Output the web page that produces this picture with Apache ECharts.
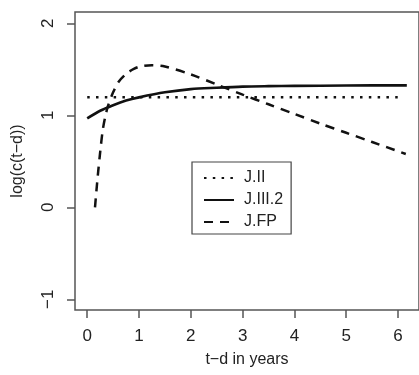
<!DOCTYPE html>
<html>
<head>
<meta charset="utf-8">
<script src="https://cdn.jsdelivr.net/npm/echarts@6/dist/echarts.min.js"></script>
<style>
  html, body { margin: 0; padding: 0; background: #fff; }
  #chart { width: 419px; height: 375px; }
</style>
</head>
<body>
<div id="chart"></div>
<script>
// data
const seriesNames = ['J.II', 'J.III.2', 'J.FP']
const xTicks = [0, 1, 2, 3, 4, 5, 6]
const yTicks = [-1, 0, 1, 2]

const jiiX = [0, 6.1]
const jiiY = [1.196, 1.196]

const jiii2X = [0, 0.25, 0.5, 0.75, 1, 1.5, 2, 2.5, 3, 3.5, 4, 5, 6.17]
const jiii2Y = [0.967, 1.05, 1.11, 1.16, 1.195, 1.25, 1.285, 1.3, 1.312, 1.317, 1.32, 1.324, 1.326]

const jfpX = [0.15, 0.2, 0.25, 0.3, 0.35, 0.4, 0.5, 0.6, 0.75, 0.9, 1.05, 1.25, 1.5, 2, 2.5, 3, 3.5, 4, 4.5, 5, 5.5, 6.15]
const jfpY = [0, 0.32, 0.6, 0.84, 0.99, 1.1, 1.25, 1.36, 1.45, 1.505, 1.535, 1.545, 1.53, 1.445, 1.335, 1.225, 1.12, 1.015, 0.91, 0.81, 0.71, 0.58]

const pairs = (xs, ys) => xs.map((x, i) => [x, ys[i]])

const font = 'Liberation Sans, Arial, sans-serif'
const ink = '#111'
const axisInk = '#555'

const chart = echarts.init(document.getElementById('chart'), null, { renderer: 'canvas' })

const opt = {
  animation: false,
  backgroundColor: '#fff',
  textStyle: { fontFamily: font },
  grid: {
    left: 75, top: 12, width: 346, height: 298,
    show: true, borderColor: axisInk, borderWidth: 1.5, backgroundColor: 'transparent'
  },
  legend: {
    orient: 'vertical',
    left: 192, top: 162,
    data: seriesNames,
    itemWidth: 30, itemHeight: 14, itemGap: 2,
    padding: [6, 8, 2, 11],
    borderColor: '#444', borderWidth: 1.2,
    itemStyle: { opacity: 0 },
    textStyle: { fontFamily: font, fontSize: 16, color: '#222', padding: [0, 0, 0, 5], lineHeight: 20 },
    selectedMode: false
  },
  xAxis: {
    type: 'value',
    min: -0.236, max: -0.236 + 346 / 52.1,
    name: 't−d in years',
    nameLocation: 'middle',
    nameGap: 42,
    nameTextStyle: { fontFamily: font, fontSize: 16, color: '#222' },
    axisLine: { show: false, onZero: false },
    splitLine: { show: false },
    axisTick: { show: true, length: 8, customValues: xTicks, lineStyle: { color: axisInk, width: 1.5 } },
    axisLabel: { customValues: xTicks, margin: 18, fontFamily: font, fontSize: 17, color: '#222' }
  },
  yAxis: {
    type: 'value',
    min: -1.116, max: 2.123,
    name: 'log(c(t−d))',
    nameLocation: 'middle',
    nameGap: 49,
    nameRotate: 90,
    nameTextStyle: { fontFamily: font, fontSize: 16, color: '#222' },
    axisLine: { show: false, onZero: false },
    splitLine: { show: false },
    axisTick: { show: true, length: 8, customValues: yTicks, lineStyle: { color: axisInk, width: 1.5 } },
    axisLabel: {
      customValues: yTicks, rotate: 90, margin: 18,
      fontFamily: font, fontSize: 17, color: '#222',
      formatter: v => String(v).replace('-', '−')
    }
  },
  series: [
    {
      name: seriesNames[0], type: 'line', data: pairs(jiiX, jiiY),
      showSymbol: false, symbol: 'none', color: ink, itemStyle: { opacity: 0 },
      lineStyle: { color: ink, width: 2.5, type: [2.5, 6.3], cap: 'butt' }
    },
    {
      name: seriesNames[1], type: 'line', data: pairs(jiii2X, jiii2Y),
      showSymbol: false, symbol: 'none', color: ink, smooth: 0.3, itemStyle: { opacity: 0 },
      lineStyle: { color: ink, width: 2.6 }
    },
    {
      name: seriesNames[2], type: 'line', data: pairs(jfpX, jfpY),
      showSymbol: false, symbol: 'none', color: ink, smooth: 0.3, itemStyle: { opacity: 0 },
      lineStyle: { color: ink, width: 2.5, type: [9, 7], cap: 'butt' }
    }
  ]
}

chart.setOption(opt)
</script>
</body>
</html>
